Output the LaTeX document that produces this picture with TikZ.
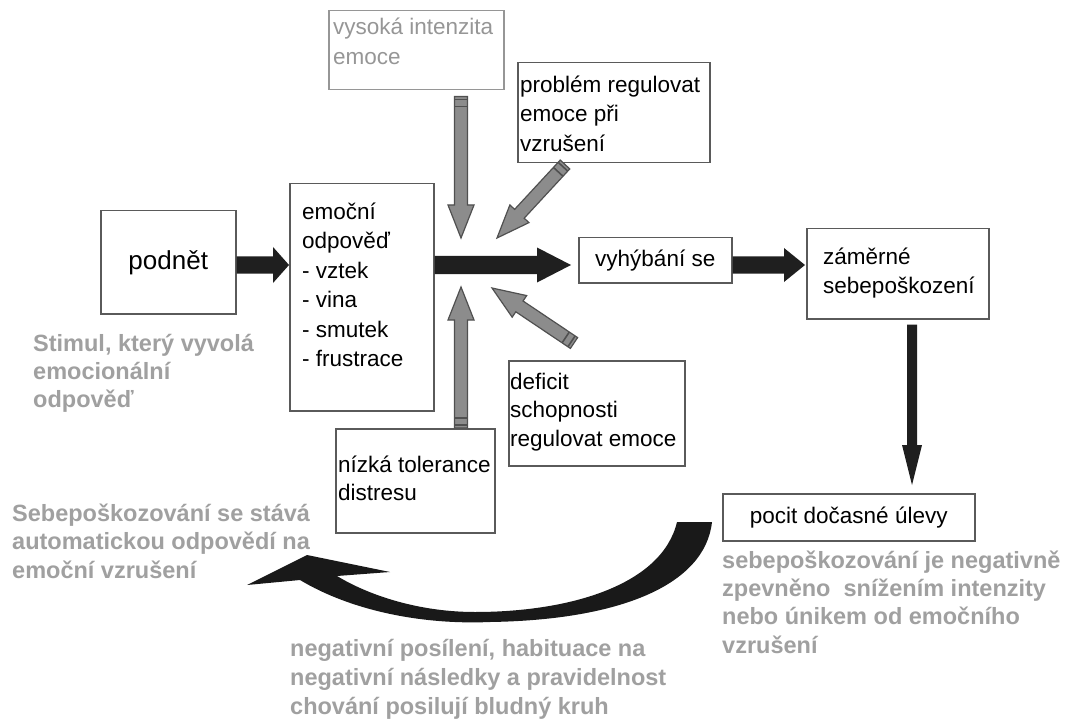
\documentclass[tikz,border=0pt]{standalone}
\usepackage{fontspec}
\setmainfont{Liberation Sans}
\usetikzlibrary{calc}
\definecolor{txtgray}{RGB}{160,160,160}
\definecolor{boxgray}{RGB}{150,150,150}
\definecolor{boxc}{RGB}{90,90,90}
\definecolor{arrgray}{RGB}{140,140,140}
\definecolor{arredge}{RGB}{80,80,80}
% block arrow: #1 style, #2 from, #3 to, #4 half shaft, #5 half head, #6 head length
\newcommand{\blockarr}[6]{%
  \coordinate (tmpC) at ($(#3)!#6!(#2)$);
  \path[#1] ($(#2)!#4!90:(#3)$) -- ($(tmpC)!#4!90:(#3)$) -- ($(tmpC)!#5!90:(#3)$) -- (#3)
    -- ($(tmpC)!#5!-90:(#3)$) -- ($(tmpC)!#4!-90:(#3)$) -- ($(#2)!#4!-90:(#3)$) -- cycle;
}
\newcommand{\grayarr}[2]{%
  \blockarr{garr}{#1}{#2}{6.5pt}{13pt}{33pt}
  \coordinate (tmpP) at ($(#1)!3pt!(#2)$);
  \draw[stripe] ($(tmpP)!6.5pt!90:(#2)$) -- ($(tmpP)!6.5pt!-90:(#2)$);
  \coordinate (tmpQ) at ($(#1)!10pt!(#2)$);
  \draw[stripe] ($(tmpQ)!6.5pt!90:(#2)$) -- ($(tmpQ)!6.5pt!-90:(#2)$);
}
\begin{document}
\begin{tikzpicture}[x=1pt,y=-1pt,
  box/.style={draw=boxc, line width=1.5pt, fill=white, inner sep=0pt, anchor=north west},
  btxt/.style={anchor=north west, inner sep=0pt, align=left},
  gtxt/.style={anchor=north west, inner sep=0pt, align=left, text=txtgray},
  blk/.style={fill=black!88},
  garr/.style={fill=arrgray, draw=arredge, line width=1.2pt, line join=miter},
  stripe/.style={draw=arredge, line width=1.6pt}]
\useasboundingbox[fill=white] (0,0) rectangle (1078,719);

% boxes
\node[box, minimum width=135pt, minimum height=103pt, font=\fontsize{26}{30}\selectfont] (podnet) at (100,210) {podnět};
\node[box, minimum width=144pt, minimum height=227pt] (emoc) at (289,183) {};
\node[box, draw=boxgray, minimum width=175pt, minimum height=79pt] (vys) at (328,10) {};
\node[box, minimum width=192pt, minimum height=100pt] (prob) at (517,62) {};
\node[box, minimum width=153pt, minimum height=45pt, font=\fontsize{22.5}{27}\selectfont] (vyh) at (578,237) {vyhýbání se};
\node[box, minimum width=182pt, minimum height=90pt] (zam) at (806,228) {};
\node[box, minimum width=176pt, minimum height=105pt] (def) at (508,360) {};
\node[box, minimum width=159pt, minimum height=104pt] (niz) at (335,428) {};
\node[box, minimum width=252pt, minimum height=47pt, font=\fontsize{22.5}{27}\selectfont] (pocit) at (722,493) {pocit dočasné úlevy};

% box texts
\node[btxt, font=\fontsize{22.5}{29.5}\selectfont] (emocT) at (302,198.5) {\strut emoční\\odpověď\\- vztek\\- vina\\- smutek\\- frustrace};
\node[btxt, text=boxgray, font=\fontsize{22.5}{30}\selectfont] (vysT) at (333,13) {\strut vysoká intenzita\\emoce};
\node[btxt, font=\fontsize{22.5}{29.5}\selectfont] (probT) at (520,71.4) {\strut problém regulovat\\emoce při\\vzrušení};
\node[btxt, font=\fontsize{22.5}{28.5}\selectfont] (defT) at (510,369) {\strut deficit\\schopnosti\\regulovat emoce};
\node[btxt, font=\fontsize{22.5}{28}\selectfont] (nizT) at (338,453) {\strut nízká tolerance\\distresu};
\node[btxt, font=\fontsize{22.5}{29}\selectfont] (zamT) at (823,243.7) {\strut záměrné\\sebepoškození};

% gray annotations
\node[gtxt, font=\bfseries\fontsize{23.5}{28}\selectfont] (stimT) at (33,331.4) {\strut Stimul, který vyvolá\\emocionální\\odpověď};
\node[gtxt, font=\bfseries\fontsize{23.5}{28.5}\selectfont] (sebeT) at (12,501) {\strut Sebepoškozování se stává\\automatickou odpovědí na\\emoční vzrušení};
\node[gtxt, font=\bfseries\fontsize{23.5}{29}\selectfont] (negT) at (290,635.7) {\strut negativní posílení, habituace na\\negativní následky a pravidelnost\\chování posilují bludný kruh};
\node[gtxt, font=\bfseries\fontsize{23.5}{28.3}\selectfont] (rightT) at (722,548.2) {\strut sebepoškozování je negativně\\zpevněno\ \ snížením intenzity\\nebo únikem od emočního\\vzrušení};

% black arrows
\coordinate (my) at (0,265);
\coordinate (vx) at (912,0);
\coordinate (a1s) at (podnet.east |- my);
\coordinate (a1e) at (emoc.west |- my);
\blockarr{blk}{a1s}{a1e}{8.5pt}{18pt}{16pt}
\coordinate (a2s) at (emoc.east |- my);
\coordinate (a2e) at ($(vyh.west |- my)+(-7,0)$);
\blockarr{blk}{a2s}{a2e}{9pt}{17.5pt}{34pt}
\coordinate (a3s) at (vyh.east |- my);
\coordinate (a3e) at ($(zam.west |- my)+(-1,0)$);
\blockarr{blk}{a3s}{a3e}{8.5pt}{17pt}{21pt}
\coordinate (a4s) at ($(zam.south -| vx)+(0,5)$);
\coordinate (a4e) at ($(pocit.north -| vx)+(0,-8)$);
\blockarr{blk}{a4s}{a4e}{5pt}{10pt}{40pt}

% gray arrows
\coordinate (conv) at (461,262);
\coordinate (g1s) at ($(vys.south -| conv)+(0,6)$);
\coordinate (g1e) at ($(conv)+(0,-24)$);
\grayarr{g1s}{g1e}
\coordinate (g2s) at (niz.north -| conv);
\coordinate (g2e) at ($(conv)+(0,25)$);
\grayarr{g2s}{g2e}
\coordinate (g3s) at ($(prob.south west)+(48,1)$);
\coordinate (g3e) at (497,238);
\grayarr{g3s}{g3e}
\coordinate (g4s) at ($(def.north west)+(66,-17)$);
\coordinate (g4e) at (492,288);
\grayarr{g4s}{g4e}

% curved feedback arrow
\fill[black!90] (677,522) .. controls (662,585) and (570,612) .. (475,612)
  .. controls (420,612) and (370,596) .. (337,576) -- (390,572) -- (307,555) -- (247,585) -- (300,580)
  .. controls (350,610) and (420,625) .. (490,622)
  .. controls (620,620) and (705,585) .. (712,522) -- cycle;
\end{tikzpicture}
\end{document}
